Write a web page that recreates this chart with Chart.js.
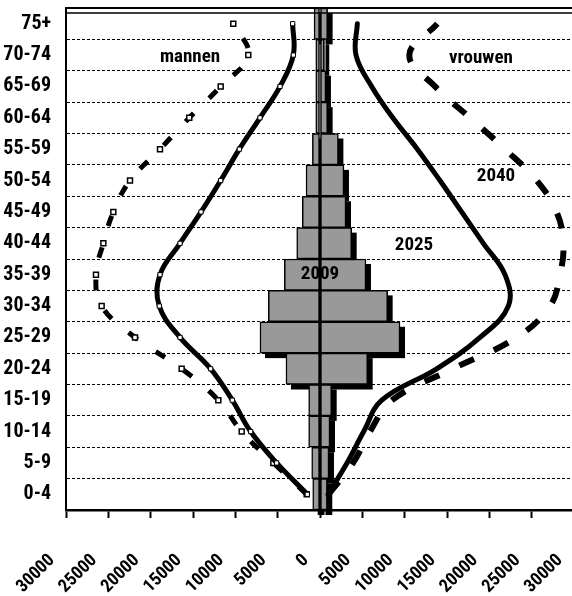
<!DOCTYPE html>
<html><head><meta charset="utf-8">
<script src="https://cdn.jsdelivr.net/npm/chart.js@4.4.1/dist/chart.umd.min.js"></script>
<style>
html,body{margin:0;padding:0;background:#fff;overflow:hidden;}
#wrap{position:relative;width:580px;height:596px;}
</style></head><body>
<div id="wrap"><canvas id="c" width="580" height="596" style="width:580px;height:596px"></canvas></div>
<script>
// Age groups (bottom to top)
const categories = ['0-4','5-9','10-14','15-19','20-24','25-29','30-34','35-39','40-44','45-49','50-54','55-59','60-64','65-69','70-74','75+'];
// 2009 bars (men negative, women positive)
const men2009   = [-860, -980, -1340, -1340, -4020, -7090, -6100, -4210, -2750, -2090, -1650, -900, -500, -500, -500, -700];
const women2009 = [860, 1060, 1180, 1380, 5630, 9450, 7990, 5430, 3740, 3070, 2830, 2170, 900, 700, 500, 900];
// 2025 projection
const men2025   = [-1500, -5120, -8190, -10360, -12910, -16530, -18980, -18900, -16530, -14050, -11730, -9530, -7090, -4720, -3150, -3230];
const women2025 = [950, 3190, 5160, 7300, 13780, 18900, 22240, 21850, 19290, 16730, 14170, 11500, 8600, 6100, 4250, 4410];
// 2040 projection
const men2040   = [-1570, -5510, -9250, -12010, -16340, -21850, -25790, -26460, -25590, -24410, -22440, -18900, -15440, -11730, -8470, -10240];
const women2040 = [1000, 3900, 5900, 8500, 15700, 23230, 27160, 28350, 28740, 27950, 25590, 21850, 17720, 13580, 10550, 13860];
// x axis
const xMin = -30000, xMax = 30000, xStep = 5000;
// annotations
const notes = [
  {text:'mannen',  x:-15350, cat:'70-74', dy:2},
  {text:'vrouwen', x:19010,  cat:'70-74', dy:3},
  {text:'2040',    x:20790,  cat:'50-54', dy:-4},
  {text:'2025',    x:11100,  cat:'40-44', dy:2},
  {text:'2009',    x:0,      cat:'35-39', dy:0}
];

const FONT = "'Roboto Condensed','Open Sans Condensed',sans-serif";

const shadowPlugin = {
  id:'barShadow',
  beforeDatasetsDraw(chart){
    const ctx = chart.ctx;
    ctx.save();
    ctx.fillStyle = '#000';
    chart.data.datasets.forEach((ds,i)=>{
      if (ds.type !== 'bar') return;
      const meta = chart.getDatasetMeta(i);
      meta.data.forEach(el=>{
        const p = el.getProps(['x','y','base','height'], true);
        const l = Math.min(p.x,p.base), r = Math.max(p.x,p.base);
        ctx.fillRect(l+5, p.y - p.height/2 + 5, r-l, p.height);
      });
    });
    ctx.restore();
  }
};

const decoPlugin = {
  id:'deco',
  afterDatasetsDraw(chart){
    const ctx = chart.ctx, ca = chart.chartArea;
    const xs = chart.scales.x, ys = chart.scales.y;
    ctx.save();
    ctx.strokeStyle = '#000';
    ctx.lineWidth = 2;
    ctx.beginPath(); ctx.moveTo(ca.left, ca.top); ctx.lineTo(ca.right, ca.top); ctx.stroke();
    ctx.lineWidth = 1.5;
    ctx.beginPath(); ctx.moveTo(ca.left, ca.top+5); ctx.lineTo(ca.right, ca.top+5); ctx.stroke();
    ctx.fillStyle = '#000';
    ctx.font = "bold 19px " + FONT;
    ctx.textAlign = 'center';
    ctx.textBaseline = 'middle';
    notes.forEach(n=>{
      const px = xs.getPixelForValue(n.x);
      const py = ys.getPixelForValue(categories.indexOf(n.cat)) + n.dy;
      ctx.fillText(n.text, px, py);
    });
    ctx.restore();
  }
};

const barCommon = {type:'bar', backgroundColor:'#999999', borderColor:'#000', borderWidth:1.5,
  borderSkipped:false, barPercentage:1, categoryPercentage:1, grouped:false, order:2, indexAxis:'y'};

new Chart(document.getElementById('c'), {
  type:'bar',
  data:{
    labels:categories,
    datasets:[
      Object.assign({label:'2009 mannen', data:men2009}, barCommon),
      Object.assign({label:'2009 vrouwen', data:women2009}, barCommon),
      {type:'line', label:'2025 mannen', data:men2025, indexAxis:'y', borderColor:'#000', borderWidth:5,
       tension:0.4, fill:false, pointStyle:'rect', pointRadius:3, pointBackgroundColor:'#fff',
       pointBorderColor:'#000', pointBorderWidth:1, order:1},
      {type:'line', label:'2025 vrouwen', data:women2025, indexAxis:'y', borderColor:'#000', borderWidth:5,
       tension:0.4, fill:false, pointRadius:0, borderCapStyle:'round', order:1},
      {type:'line', label:'2040 mannen', data:men2040, indexAxis:'y', borderColor:'#000', borderWidth:5,
       borderDash:[11,22], tension:0.4, fill:false, pointStyle:'rect', pointRadius:3.5, pointBackgroundColor:'#fff',
       pointBorderColor:'#000', pointBorderWidth:1.5, order:1},
      {type:'line', label:'2040 vrouwen', data:women2040, indexAxis:'y', borderColor:'#000', borderWidth:6,
       borderDash:[16,22], tension:0.4, fill:false, pointRadius:0, order:1}
    ]
  },
  options:{
    responsive:false, animation:false, indexAxis:'y',
    layout:{padding:{top:8, right:6, left:0, bottom:0}},
    plugins:{legend:{display:false}, tooltip:{enabled:false}},
    scales:{
      x:{type:'linear', min:xMin, max:xMax,
        ticks:{stepSize:xStep, autoSkip:false, minRotation:45, maxRotation:45, padding:32, labelOffset:-14,
          color:'#000', font:{family:FONT, size:18, weight:'bold'}, callback:v=>String(Math.abs(v))},
        grid:{drawOnChartArea:false, drawTicks:true, tickLength:8, tickWidth:2, tickColor:'#000'},
        border:{display:true, color:'#000', width:2.5},
        afterFit(s){ s.height = 86; s.paddingLeft = 0; s.paddingRight = 0; }
      },
      y:{type:'category', reverse:true, offset:true,
        ticks:{padding:15, color:'#000', font:{family:FONT, size:20, weight:'bold'}},
        grid:{offset:true, color:'#000', lineWidth:1, drawTicks:false},
        border:{display:true, color:'#000', width:2, dash:[3,2]},
        afterFit(s){ s.width = 66; s.paddingTop = 0; s.paddingBottom = 0; }
      }
    }
  },
  plugins:[shadowPlugin, decoPlugin]
});
</script>
</body></html>
